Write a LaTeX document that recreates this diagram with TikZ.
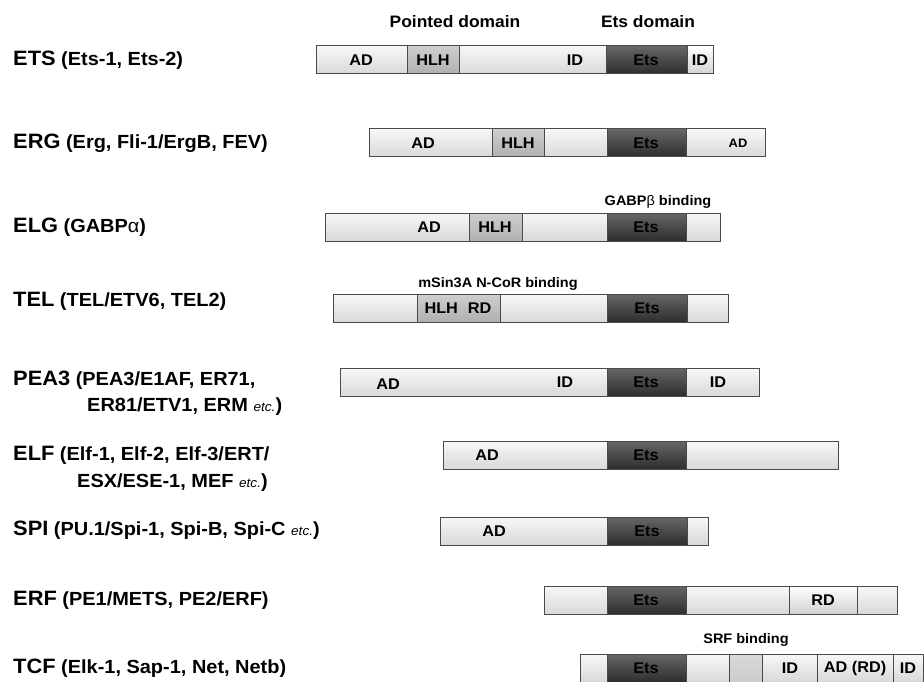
\documentclass[tikz,border=0pt]{standalone}
\usepackage{fontspec}
\setmainfont{Liberation Sans}[FakeStretch=1.05]
\usepackage{tikz}
\usetikzlibrary{positioning}
\definecolor{BarEdge}{HTML}{4A4A4A}
\tikzset{
    % Whole protein bar
    barbox/.style={
        draw=BarEdge,
        line width=1pt,
        top color=gray!6,
        bottom color=gray!30,
        minimum height=28,
        inner sep=0pt,
        anchor=west
    },
    % Helix-loop-helix (pointed) domain
    hlhbox/.style={
        barbox,
        top color=gray!38,
        bottom color=gray!62
    },
    % Ets DNA-binding domain
    etsbox/.style={
        barbox,
        top color=black!60,
        middle color=black!40,
        bottom color=black!82
    },
    % Light extra segment
    lightbox/.style={
        barbox,
        top color=white,
        bottom color=gray!35
    },
    % Flat grey segment
    flatbox/.style={
        barbox,
        top color=gray!30,
        bottom color=gray!40
    },
    % Labels inside the bars
    domlabel/.style={
        font=\bfseries\fontsize{15.5}{17}\selectfont,
        inner sep=0pt
    },
    smalllabel/.style={
        font=\bfseries\fontsize{12.3}{14}\selectfont,
        inner sep=0pt
    },
    % Labels over the bars
    toplabel/.style={
        font=\bfseries\fontsize{16.6}{18}\selectfont,
        inner sep=0pt
    },
    bindlabel/.style={
        font=\bfseries\fontsize{13.8}{15}\selectfont,
        inner sep=0pt
    },
    % Family names on the left
    famlabel/.style={
        anchor=west,
        inner sep=0pt,
        font=\bfseries\fontsize{19}{22}\selectfont
    }
}
\newcommand{\famname}[1]{{\fontsize{20.8}{23}\selectfont #1}}
\newcommand{\etcword}{{\mdseries\itshape\fontsize{13}{15}\selectfont etc.}}

\begin{document}
\begin{tikzpicture}[x=1pt, y=-1pt]
        \useasboundingbox (0,0) rectangle (924,682);

        % Headers
        \node[toplabel] (hdPointed) at (455,22) {Pointed domain};
        \node[toplabel] (hdEts) at (648,22) {Ets domain};

        % Family names
        \node[famlabel] (nmETS) at (13,60) {\famname{ETS} (Ets-1, Ets-2)};
        \node[famlabel] (nmERG) at (13,143) {\famname{ERG} (Erg, Fli-1/ErgB, FEV)};
        \node[famlabel] (nmELG) at (13,227) {\famname{ELG} (GABP{\mdseries α})};
        \node[famlabel] (nmTEL) at (13,301) {\famname{TEL} (TEL/ETV6, TEL2)};
        \node[famlabel] (nmPEA) at (13,380) {\famname{PEA3} (PEA3/E1AF, ER71,};
        \node[famlabel] (nmPEAb) at (87,407) {ER81/ETV1, ERM \etcword)};
        \node[famlabel] (nmELF) at (13,455) {\famname{ELF} (Elf-1, Elf-2, Elf-3/ERT/};
        \node[famlabel] (nmELFb) at (77,483) {ESX/ESE-1, MEF \etcword)};
        \node[famlabel] (nmSPI) at (13,530) {\famname{SPI} (PU.1/Spi-1, Spi-B, Spi-C \etcword)};
        \node[famlabel] (nmERF) at (13,600) {\famname{ERF} (PE1/METS, PE2/ERF)};
        \node[famlabel] (nmTCF) at (13,668) {\famname{TCF} (Elk-1, Sap-1, Net, Netb)};

        % ETS
        \node[barbox, minimum width=397] (etsBar) at (316,60) {};
        \node[hlhbox, minimum width=52] (etsHLH) at (407,60) {};
        \node[etsbox, minimum width=81] (etsEts) at (606,60) {};
        \node[lightbox, minimum width=26] (etsID) at (687,60) {};
        \node[domlabel] at (361,60) {AD};
        \node[domlabel] at (433,60) {HLH};
        \node[domlabel] at (575,60) {ID};
        \node[domlabel] at (646,60) {Ets};
        \node[domlabel] at (700,60) {ID};

        % ERG
        \node[barbox, minimum width=396] (ergBar) at (369,143) {};
        \node[hlhbox, minimum width=52] (ergHLH) at (492,143) {};
        \node[etsbox, minimum width=79] (ergEts) at (607,143) {};
        \node[domlabel] at (423,143) {AD};
        \node[domlabel] at (518,143) {HLH};
        \node[domlabel] at (646,143) {Ets};
        \node[smalllabel] at (738,143) {AD};

        % ELG
        \node[barbox, minimum width=395] (elgBar) at (325,227) {};
        \node[hlhbox, minimum width=53] (elgHLH) at (469,227) {};
        \node[etsbox, minimum width=79] (elgEts) at (607,227) {};
        \node[domlabel] at (429,227) {AD};
        \node[domlabel] at (495,227) {HLH};
        \node[domlabel] at (646,227) {Ets};
        \node[bindlabel] (elgBind) at (658,202) {GABP{\mdseries β} binding};

        % TEL
        \node[barbox, minimum width=395] (telBar) at (333,308) {};
        \node[hlhbox, minimum width=83] (telHLH) at (417,308) {};
        \node[etsbox, minimum width=80] (telEts) at (607,308) {};
        \node[domlabel] at (458,308) {HLH\hspace{10pt}RD};
        \node[domlabel] at (647,308) {Ets};
        \node[bindlabel] (telBind) at (498,284) {mSin3A N-CoR binding};

        % PEA3
        \node[barbox, minimum width=419] (peaBar) at (340,382) {};
        \node[etsbox, minimum width=79] (peaEts) at (607,382) {};
        \node[domlabel] at (388,384) {AD};
        \node[domlabel] at (565,382) {ID};
        \node[domlabel] at (646,382) {Ets};
        \node[domlabel] at (718,382) {ID};

        % ELF
        \node[barbox, minimum width=395] (elfBar) at (443,455) {};
        \node[etsbox, minimum width=79] (elfEts) at (607,455) {};
        \node[domlabel] at (487,455) {AD};
        \node[domlabel] at (646,455) {Ets};

        % SPI
        \node[barbox, minimum width=268] (spiBar) at (440,531) {};
        \node[etsbox, minimum width=80] (spiEts) at (607,531) {};
        \node[domlabel] at (494,531) {AD};
        \node[domlabel] at (647,531) {Ets};

        % ERF
        \node[barbox, minimum width=353] (erfBar) at (544,600) {};
        \node[etsbox, minimum width=79] (erfEts) at (607,600) {};
        \node[lightbox, minimum width=68] (erfRD) at (789,600) {};
        \node[domlabel] at (646,600) {Ets};
        \node[domlabel] at (823,600) {RD};

        % TCF
        \node[barbox, minimum width=343] (tcfBar) at (580,668) {};
        \node[etsbox, minimum width=79] (tcfEts) at (607,668) {};
        \node[flatbox, minimum width=33] (tcfBox) at (729,668) {};
        \node[barbox, minimum width=76] (tcfAD) at (817,668) {};
        \node[barbox, minimum width=30] (tcfID) at (893,668) {};
        \node[domlabel] at (646,668) {Ets};
        \node[domlabel] at (790,668) {ID};
        \node[domlabel] at (855,668) {AD (RD)};
        \node[domlabel] at (908,668) {ID};
        \node[bindlabel] (tcfBind) at (746,640) {SRF binding};
    \end{tikzpicture}
\end{document}
